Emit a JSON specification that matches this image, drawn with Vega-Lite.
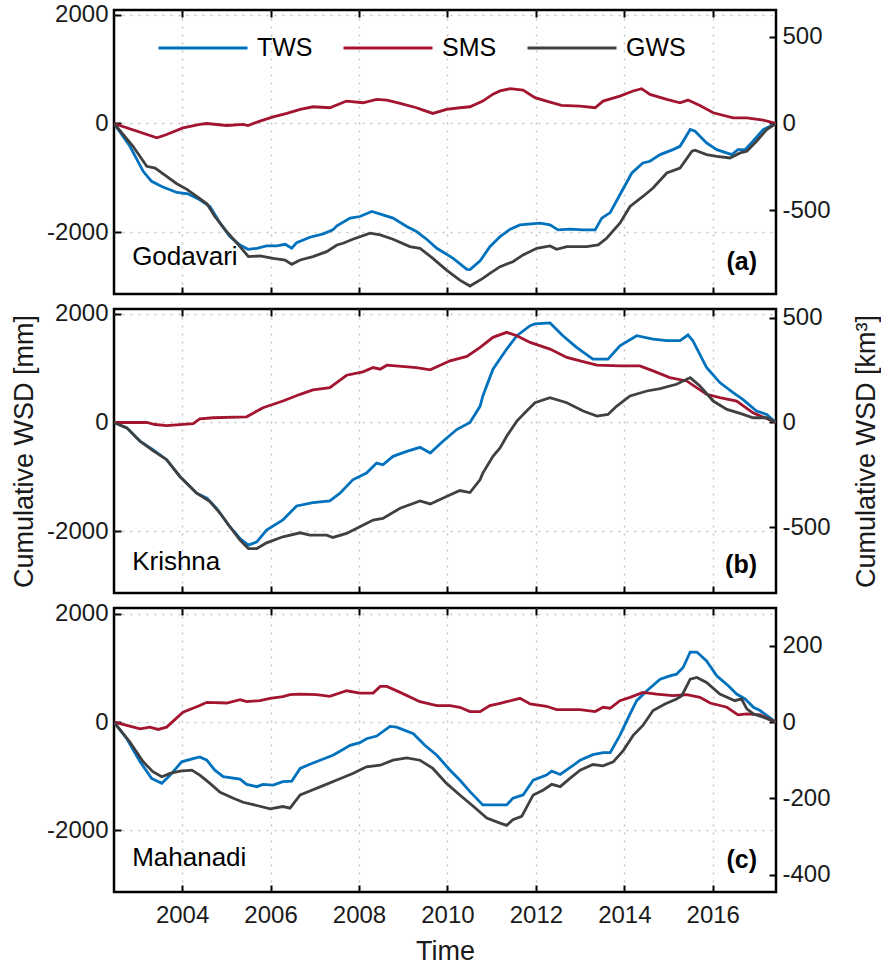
{
  "$schema": "https://vega.github.io/schema/vega-lite/v6.json",
  "background": "white",
  "padding": {"left": 9, "top": 0, "right": 0, "bottom": 2},
  "spacing": 15,
  "bounds": "flush",
  "datasets": {
    "Godavari": [
      {"series":"TWS","year":2002.46,"mm":0},{"series":"TWS","year":2002.82,"mm":-420},{"series":"TWS","year":2003.12,"mm":-881},{"series":"TWS","year":2003.31,"mm":-1066},{"series":"TWS","year":2003.54,"mm":-1159},{"series":"TWS","year":2003.88,"mm":-1270},{"series":"TWS","year":2004.13,"mm":-1294},{"series":"TWS","year":2004.40,"mm":-1405},{"series":"TWS","year":2004.63,"mm":-1529},{"series":"TWS","year":2004.86,"mm":-1836},{"series":"TWS","year":2005.08,"mm":-2083},{"series":"TWS","year":2005.31,"mm":-2237},{"series":"TWS","year":2005.49,"mm":-2317},{"series":"TWS","year":2005.69,"mm":-2298},{"series":"TWS","year":2005.91,"mm":-2255},{"series":"TWS","year":2006.14,"mm":-2255},{"series":"TWS","year":2006.33,"mm":-2224},{"series":"TWS","year":2006.48,"mm":-2298},{"series":"TWS","year":2006.59,"mm":-2194},{"series":"TWS","year":2006.89,"mm":-2095},{"series":"TWS","year":2007.19,"mm":-2033},{"series":"TWS","year":2007.41,"mm":-1959},{"series":"TWS","year":2007.50,"mm":-1885},{"series":"TWS","year":2007.80,"mm":-1743},{"series":"TWS","year":2008.02,"mm":-1713},{"series":"TWS","year":2008.29,"mm":-1621},{"series":"TWS","year":2008.54,"mm":-1682},{"series":"TWS","year":2008.77,"mm":-1743},{"series":"TWS","year":2009.08,"mm":-1898},{"series":"TWS","year":2009.30,"mm":-1990},{"series":"TWS","year":2009.53,"mm":-2131},{"series":"TWS","year":2009.76,"mm":-2298},{"series":"TWS","year":2010.13,"mm":-2483},{"series":"TWS","year":2010.44,"mm":-2686},{"series":"TWS","year":2010.51,"mm":-2690},{"series":"TWS","year":2010.74,"mm":-2530},{"series":"TWS","year":2010.96,"mm":-2268},{"series":"TWS","year":2011.19,"mm":-2083},{"series":"TWS","year":2011.42,"mm":-1947},{"series":"TWS","year":2011.64,"mm":-1867},{"series":"TWS","year":2012.09,"mm":-1836},{"series":"TWS","year":2012.32,"mm":-1867},{"series":"TWS","year":2012.50,"mm":-1959},{"series":"TWS","year":2012.77,"mm":-1947},{"series":"TWS","year":2013.07,"mm":-1959},{"series":"TWS","year":2013.34,"mm":-1959},{"series":"TWS","year":2013.49,"mm":-1743},{"series":"TWS","year":2013.68,"mm":-1640},{"series":"TWS","year":2013.90,"mm":-1312},{"series":"TWS","year":2014.17,"mm":-911},{"series":"TWS","year":2014.42,"mm":-727},{"series":"TWS","year":2014.58,"mm":-696},{"series":"TWS","year":2014.81,"mm":-573},{"series":"TWS","year":2015.10,"mm":-481},{"series":"TWS","year":2015.26,"mm":-420},{"series":"TWS","year":2015.49,"mm":-111},{"series":"TWS","year":2015.60,"mm":-142},{"series":"TWS","year":2015.86,"mm":-357},{"series":"TWS","year":2016.09,"mm":-481},{"series":"TWS","year":2016.43,"mm":-573},{"series":"TWS","year":2016.57,"mm":-481},{"series":"TWS","year":2016.73,"mm":-481},{"series":"TWS","year":2016.91,"mm":-327},{"series":"TWS","year":2017.14,"mm":-111},{"series":"TWS","year":2017.43,"mm":0},
      {"series":"SMS","year":2002.46,"mm":0},{"series":"SMS","year":2003.43,"mm":-264},{"series":"SMS","year":2003.65,"mm":-203},{"series":"SMS","year":2004.02,"mm":-80},{"series":"SMS","year":2004.40,"mm":-18},{"series":"SMS","year":2004.56,"mm":0},{"series":"SMS","year":2005.01,"mm":-37},{"series":"SMS","year":2005.38,"mm":-18},{"series":"SMS","year":2005.49,"mm":-37},{"series":"SMS","year":2005.76,"mm":43},{"series":"SMS","year":2006.06,"mm":123},{"series":"SMS","year":2006.37,"mm":185},{"series":"SMS","year":2006.67,"mm":259},{"series":"SMS","year":2006.96,"mm":308},{"series":"SMS","year":2007.34,"mm":290},{"series":"SMS","year":2007.72,"mm":413},{"series":"SMS","year":2008.09,"mm":382},{"series":"SMS","year":2008.40,"mm":444},{"series":"SMS","year":2008.63,"mm":431},{"series":"SMS","year":2008.93,"mm":370},{"series":"SMS","year":2009.30,"mm":290},{"series":"SMS","year":2009.45,"mm":246},{"series":"SMS","year":2009.67,"mm":185},{"series":"SMS","year":2009.98,"mm":259},{"series":"SMS","year":2010.28,"mm":290},{"series":"SMS","year":2010.51,"mm":308},{"series":"SMS","year":2010.80,"mm":413},{"series":"SMS","year":2011.03,"mm":540},{"series":"SMS","year":2011.19,"mm":600},{"series":"SMS","year":2011.42,"mm":641},{"series":"SMS","year":2011.71,"mm":616},{"series":"SMS","year":2011.98,"mm":475},{"series":"SMS","year":2012.24,"mm":413},{"series":"SMS","year":2012.58,"mm":333},{"series":"SMS","year":2013.00,"mm":320},{"series":"SMS","year":2013.34,"mm":290},{"series":"SMS","year":2013.52,"mm":413},{"series":"SMS","year":2013.90,"mm":505},{"series":"SMS","year":2014.20,"mm":598},{"series":"SMS","year":2014.39,"mm":641},{"series":"SMS","year":2014.58,"mm":536},{"series":"SMS","year":2014.96,"mm":444},{"series":"SMS","year":2015.26,"mm":382},{"series":"SMS","year":2015.44,"mm":431},{"series":"SMS","year":2015.71,"mm":333},{"series":"SMS","year":2016.01,"mm":198},{"series":"SMS","year":2016.46,"mm":105},{"series":"SMS","year":2016.77,"mm":105},{"series":"SMS","year":2017.14,"mm":61},{"series":"SMS","year":2017.43,"mm":0},
      {"series":"GWS","year":2002.46,"mm":0},{"series":"GWS","year":2002.89,"mm":-420},{"series":"GWS","year":2003.20,"mm":-789},{"series":"GWS","year":2003.39,"mm":-820},{"series":"GWS","year":2003.65,"mm":-974},{"series":"GWS","year":2003.88,"mm":-1109},{"series":"GWS","year":2004.10,"mm":-1208},{"series":"GWS","year":2004.33,"mm":-1344},{"series":"GWS","year":2004.56,"mm":-1479},{"series":"GWS","year":2004.74,"mm":-1713},{"series":"GWS","year":2005.01,"mm":-1990},{"series":"GWS","year":2005.31,"mm":-2268},{"series":"GWS","year":2005.50,"mm":-2452},{"series":"GWS","year":2005.76,"mm":-2440},{"series":"GWS","year":2006.06,"mm":-2483},{"series":"GWS","year":2006.33,"mm":-2514},{"series":"GWS","year":2006.48,"mm":-2594},{"series":"GWS","year":2006.67,"mm":-2514},{"series":"GWS","year":2006.96,"mm":-2452},{"series":"GWS","year":2007.27,"mm":-2360},{"series":"GWS","year":2007.50,"mm":-2237},{"series":"GWS","year":2007.64,"mm":-2206},{"series":"GWS","year":2007.86,"mm":-2131},{"series":"GWS","year":2008.25,"mm":-2020},{"series":"GWS","year":2008.48,"mm":-2052},{"series":"GWS","year":2008.77,"mm":-2131},{"series":"GWS","year":2009.15,"mm":-2268},{"series":"GWS","year":2009.38,"mm":-2298},{"series":"GWS","year":2009.67,"mm":-2483},{"series":"GWS","year":2009.98,"mm":-2699},{"series":"GWS","year":2010.28,"mm":-2884},{"series":"GWS","year":2010.51,"mm":-2994},{"series":"GWS","year":2010.80,"mm":-2852},{"series":"GWS","year":2010.96,"mm":-2760},{"series":"GWS","year":2011.19,"mm":-2637},{"series":"GWS","year":2011.48,"mm":-2545},{"series":"GWS","year":2011.71,"mm":-2421},{"series":"GWS","year":2012.02,"mm":-2298},{"series":"GWS","year":2012.32,"mm":-2255},{"series":"GWS","year":2012.47,"mm":-2317},{"series":"GWS","year":2012.70,"mm":-2268},{"series":"GWS","year":2013.15,"mm":-2268},{"series":"GWS","year":2013.41,"mm":-2237},{"series":"GWS","year":2013.60,"mm":-2113},{"series":"GWS","year":2013.90,"mm":-1836},{"series":"GWS","year":2014.13,"mm":-1529},{"series":"GWS","year":2014.42,"mm":-1344},{"series":"GWS","year":2014.65,"mm":-1189},{"series":"GWS","year":2014.96,"mm":-911},{"series":"GWS","year":2015.26,"mm":-820},{"series":"GWS","year":2015.53,"mm":-512},{"series":"GWS","year":2015.60,"mm":-493},{"series":"GWS","year":2015.86,"mm":-573},{"series":"GWS","year":2016.09,"mm":-604},{"series":"GWS","year":2016.39,"mm":-635},{"series":"GWS","year":2016.62,"mm":-542},{"series":"GWS","year":2016.77,"mm":-512},{"series":"GWS","year":2016.99,"mm":-327},{"series":"GWS","year":2017.22,"mm":-111},{"series":"GWS","year":2017.43,"mm":0}
    ],
    "Krishna": [
      {"series":"TWS","year":2002.46,"mm":0},{"series":"TWS","year":2002.75,"mm":-99},{"series":"TWS","year":2003.05,"mm":-346},{"series":"TWS","year":2003.34,"mm":-500},{"series":"TWS","year":2003.65,"mm":-685},{"series":"TWS","year":2003.95,"mm":-994},{"series":"TWS","year":2004.33,"mm":-1302},{"series":"TWS","year":2004.56,"mm":-1395},{"series":"TWS","year":2004.78,"mm":-1580},{"series":"TWS","year":2005.08,"mm":-1920},{"series":"TWS","year":2005.31,"mm":-2136},{"series":"TWS","year":2005.50,"mm":-2259},{"series":"TWS","year":2005.69,"mm":-2198},{"series":"TWS","year":2005.91,"mm":-1981},{"series":"TWS","year":2006.28,"mm":-1796},{"series":"TWS","year":2006.59,"mm":-1537},{"series":"TWS","year":2006.96,"mm":-1475},{"series":"TWS","year":2007.34,"mm":-1444},{"series":"TWS","year":2007.57,"mm":-1302},{"series":"TWS","year":2007.86,"mm":-1055},{"series":"TWS","year":2008.17,"mm":-932},{"series":"TWS","year":2008.40,"mm":-747},{"series":"TWS","year":2008.54,"mm":-778},{"series":"TWS","year":2008.77,"mm":-623},{"series":"TWS","year":2009.08,"mm":-531},{"series":"TWS","year":2009.38,"mm":-457},{"series":"TWS","year":2009.61,"mm":-562},{"series":"TWS","year":2009.90,"mm":-346},{"series":"TWS","year":2010.21,"mm":-130},{"series":"TWS","year":2010.51,"mm":0},{"series":"TWS","year":2010.74,"mm":302},{"series":"TWS","year":2010.80,"mm":488},{"series":"TWS","year":2011.03,"mm":981},{"series":"TWS","year":2011.34,"mm":1352},{"series":"TWS","year":2011.57,"mm":1598},{"series":"TWS","year":2011.87,"mm":1783},{"series":"TWS","year":2011.98,"mm":1815},{"series":"TWS","year":2012.32,"mm":1833},{"series":"TWS","year":2012.61,"mm":1598},{"series":"TWS","year":2012.92,"mm":1383},{"series":"TWS","year":2013.29,"mm":1167},{"series":"TWS","year":2013.63,"mm":1167},{"series":"TWS","year":2013.90,"mm":1413},{"series":"TWS","year":2014.28,"mm":1598},{"series":"TWS","year":2014.65,"mm":1537},{"series":"TWS","year":2014.96,"mm":1506},{"series":"TWS","year":2015.26,"mm":1506},{"series":"TWS","year":2015.44,"mm":1611},{"series":"TWS","year":2015.55,"mm":1506},{"series":"TWS","year":2015.86,"mm":1012},{"series":"TWS","year":2016.16,"mm":735},{"series":"TWS","year":2016.46,"mm":549},{"series":"TWS","year":2016.68,"mm":426},{"series":"TWS","year":2016.99,"mm":210},{"series":"TWS","year":2017.22,"mm":148},{"series":"TWS","year":2017.43,"mm":0},
      {"series":"SMS","year":2002.46,"mm":0},{"series":"SMS","year":2003.20,"mm":0},{"series":"SMS","year":2003.39,"mm":-37},{"series":"SMS","year":2003.65,"mm":-56},{"series":"SMS","year":2004.25,"mm":-19},{"series":"SMS","year":2004.40,"mm":68},{"series":"SMS","year":2004.70,"mm":87},{"series":"SMS","year":2005.46,"mm":105},{"series":"SMS","year":2005.83,"mm":272},{"series":"SMS","year":2006.28,"mm":395},{"series":"SMS","year":2006.67,"mm":519},{"series":"SMS","year":2006.96,"mm":599},{"series":"SMS","year":2007.34,"mm":642},{"series":"SMS","year":2007.72,"mm":870},{"series":"SMS","year":2008.09,"mm":932},{"series":"SMS","year":2008.32,"mm":1012},{"series":"SMS","year":2008.48,"mm":981},{"series":"SMS","year":2008.63,"mm":1055},{"series":"SMS","year":2009.30,"mm":1012},{"series":"SMS","year":2009.61,"mm":969},{"series":"SMS","year":2010.06,"mm":1136},{"series":"SMS","year":2010.44,"mm":1216},{"series":"SMS","year":2010.74,"mm":1383},{"series":"SMS","year":2011.03,"mm":1568},{"series":"SMS","year":2011.34,"mm":1660},{"series":"SMS","year":2011.57,"mm":1598},{"series":"SMS","year":2011.87,"mm":1475},{"series":"SMS","year":2012.32,"mm":1352},{"series":"SMS","year":2012.70,"mm":1198},{"series":"SMS","year":2013.00,"mm":1136},{"series":"SMS","year":2013.38,"mm":1055},{"series":"SMS","year":2013.90,"mm":1043},{"series":"SMS","year":2014.35,"mm":1043},{"series":"SMS","year":2014.65,"mm":950},{"series":"SMS","year":2015.03,"mm":827},{"series":"SMS","year":2015.41,"mm":765},{"series":"SMS","year":2015.86,"mm":519},{"series":"SMS","year":2016.16,"mm":457},{"series":"SMS","year":2016.54,"mm":395},{"series":"SMS","year":2016.91,"mm":179},{"series":"SMS","year":2017.43,"mm":0},
      {"series":"GWS","year":2002.46,"mm":0},{"series":"GWS","year":2002.75,"mm":-99},{"series":"GWS","year":2003.05,"mm":-346},{"series":"GWS","year":2003.34,"mm":-519},{"series":"GWS","year":2003.65,"mm":-685},{"series":"GWS","year":2003.95,"mm":-994},{"series":"GWS","year":2004.33,"mm":-1302},{"series":"GWS","year":2004.63,"mm":-1457},{"series":"GWS","year":2004.86,"mm":-1672},{"series":"GWS","year":2005.08,"mm":-1920},{"series":"GWS","year":2005.31,"mm":-2167},{"series":"GWS","year":2005.50,"mm":-2321},{"series":"GWS","year":2005.69,"mm":-2321},{"series":"GWS","year":2005.91,"mm":-2216},{"series":"GWS","year":2006.28,"mm":-2105},{"series":"GWS","year":2006.67,"mm":-2031},{"series":"GWS","year":2006.89,"mm":-2074},{"series":"GWS","year":2007.27,"mm":-2074},{"series":"GWS","year":2007.41,"mm":-2117},{"series":"GWS","year":2007.72,"mm":-2043},{"series":"GWS","year":2008.02,"mm":-1920},{"series":"GWS","year":2008.32,"mm":-1796},{"series":"GWS","year":2008.54,"mm":-1765},{"series":"GWS","year":2008.93,"mm":-1580},{"series":"GWS","year":2009.38,"mm":-1444},{"series":"GWS","year":2009.61,"mm":-1500},{"series":"GWS","year":2009.98,"mm":-1364},{"series":"GWS","year":2010.28,"mm":-1253},{"series":"GWS","year":2010.51,"mm":-1290},{"series":"GWS","year":2010.74,"mm":-1050},{"series":"GWS","year":2010.80,"mm":-932},{"series":"GWS","year":2011.03,"mm":-623},{"series":"GWS","year":2011.19,"mm":-469},{"series":"GWS","year":2011.34,"mm":-253},{"series":"GWS","year":2011.57,"mm":25},{"series":"GWS","year":2011.79,"mm":210},{"series":"GWS","year":2011.98,"mm":364},{"series":"GWS","year":2012.32,"mm":457},{"series":"GWS","year":2012.70,"mm":364},{"series":"GWS","year":2013.07,"mm":210},{"series":"GWS","year":2013.38,"mm":117},{"series":"GWS","year":2013.63,"mm":148},{"series":"GWS","year":2013.83,"mm":302},{"series":"GWS","year":2014.13,"mm":488},{"series":"GWS","year":2014.51,"mm":580},{"series":"GWS","year":2014.81,"mm":624},{"series":"GWS","year":2015.18,"mm":704},{"series":"GWS","year":2015.49,"mm":827},{"series":"GWS","year":2015.71,"mm":673},{"series":"GWS","year":2016.01,"mm":395},{"series":"GWS","year":2016.32,"mm":241},{"series":"GWS","year":2016.62,"mm":167},{"series":"GWS","year":2016.91,"mm":87},{"series":"GWS","year":2017.22,"mm":87},{"series":"GWS","year":2017.43,"mm":0}
    ],
    "Mahanadi": [
      {"series":"TWS","year":2002.46,"mm":0},{"series":"TWS","year":2002.75,"mm":-306},{"series":"TWS","year":2003.05,"mm":-734},{"series":"TWS","year":2003.31,"mm":-1040},{"series":"TWS","year":2003.54,"mm":-1132},{"series":"TWS","year":2003.73,"mm":-979},{"series":"TWS","year":2003.99,"mm":-734},{"series":"TWS","year":2004.25,"mm":-673},{"series":"TWS","year":2004.40,"mm":-642},{"series":"TWS","year":2004.56,"mm":-704},{"series":"TWS","year":2004.74,"mm":-888},{"series":"TWS","year":2004.93,"mm":-1009},{"series":"TWS","year":2005.31,"mm":-1052},{"series":"TWS","year":2005.46,"mm":-1150},{"series":"TWS","year":2005.69,"mm":-1193},{"series":"TWS","year":2005.83,"mm":-1150},{"series":"TWS","year":2006.06,"mm":-1163},{"series":"TWS","year":2006.28,"mm":-1101},{"series":"TWS","year":2006.48,"mm":-1089},{"series":"TWS","year":2006.67,"mm":-856},{"series":"TWS","year":2006.89,"mm":-777},{"series":"TWS","year":2007.12,"mm":-704},{"series":"TWS","year":2007.41,"mm":-612},{"series":"TWS","year":2007.57,"mm":-538},{"series":"TWS","year":2007.80,"mm":-428},{"series":"TWS","year":2008.02,"mm":-379},{"series":"TWS","year":2008.17,"mm":-306},{"series":"TWS","year":2008.40,"mm":-257},{"series":"TWS","year":2008.70,"mm":-80},{"series":"TWS","year":2008.85,"mm":-92},{"series":"TWS","year":2009.23,"mm":-214},{"series":"TWS","year":2009.49,"mm":-428},{"series":"TWS","year":2009.76,"mm":-612},{"series":"TWS","year":2010.06,"mm":-888},{"series":"TWS","year":2010.28,"mm":-1071},{"series":"TWS","year":2010.51,"mm":-1284},{"series":"TWS","year":2010.80,"mm":-1530},{"series":"TWS","year":2011.03,"mm":-1530},{"series":"TWS","year":2011.34,"mm":-1530},{"series":"TWS","year":2011.48,"mm":-1407},{"series":"TWS","year":2011.71,"mm":-1346},{"series":"TWS","year":2011.94,"mm":-1071},{"series":"TWS","year":2012.24,"mm":-979},{"series":"TWS","year":2012.36,"mm":-906},{"series":"TWS","year":2012.55,"mm":-967},{"series":"TWS","year":2012.85,"mm":-796},{"series":"TWS","year":2013.00,"mm":-704},{"series":"TWS","year":2013.29,"mm":-600},{"series":"TWS","year":2013.52,"mm":-563},{"series":"TWS","year":2013.68,"mm":-563},{"series":"TWS","year":2013.90,"mm":-245},{"series":"TWS","year":2014.13,"mm":152},{"series":"TWS","year":2014.28,"mm":397},{"series":"TWS","year":2014.51,"mm":580},{"series":"TWS","year":2014.81,"mm":795},{"series":"TWS","year":2015.03,"mm":856},{"series":"TWS","year":2015.18,"mm":887},{"series":"TWS","year":2015.33,"mm":1009},{"series":"TWS","year":2015.49,"mm":1296},{"series":"TWS","year":2015.64,"mm":1296},{"series":"TWS","year":2015.86,"mm":1131},{"series":"TWS","year":2016.09,"mm":856},{"series":"TWS","year":2016.35,"mm":673},{"series":"TWS","year":2016.54,"mm":519},{"series":"TWS","year":2016.73,"mm":428},{"series":"TWS","year":2016.92,"mm":275},{"series":"TWS","year":2017.07,"mm":214},{"series":"TWS","year":2017.43,"mm":0},
      {"series":"SMS","year":2002.46,"mm":0},{"series":"SMS","year":2002.75,"mm":-61},{"series":"SMS","year":2003.05,"mm":-123},{"series":"SMS","year":2003.27,"mm":-92},{"series":"SMS","year":2003.46,"mm":-135},{"series":"SMS","year":2003.65,"mm":-92},{"series":"SMS","year":2004.02,"mm":183},{"series":"SMS","year":2004.40,"mm":306},{"series":"SMS","year":2004.56,"mm":367},{"series":"SMS","year":2005.01,"mm":354},{"series":"SMS","year":2005.31,"mm":415},{"series":"SMS","year":2005.46,"mm":378},{"series":"SMS","year":2005.76,"mm":397},{"series":"SMS","year":2005.99,"mm":440},{"series":"SMS","year":2006.28,"mm":470},{"series":"SMS","year":2006.44,"mm":507},{"series":"SMS","year":2006.67,"mm":519},{"series":"SMS","year":2007.04,"mm":507},{"series":"SMS","year":2007.34,"mm":477},{"series":"SMS","year":2007.72,"mm":580},{"series":"SMS","year":2008.02,"mm":538},{"series":"SMS","year":2008.32,"mm":538},{"series":"SMS","year":2008.48,"mm":661},{"series":"SMS","year":2008.63,"mm":661},{"series":"SMS","year":2008.93,"mm":550},{"series":"SMS","year":2009.38,"mm":378},{"series":"SMS","year":2009.76,"mm":306},{"series":"SMS","year":2010.06,"mm":306},{"series":"SMS","year":2010.28,"mm":275},{"series":"SMS","year":2010.51,"mm":195},{"series":"SMS","year":2010.74,"mm":195},{"series":"SMS","year":2010.96,"mm":306},{"series":"SMS","year":2011.19,"mm":349},{"series":"SMS","year":2011.34,"mm":378},{"series":"SMS","year":2011.64,"mm":440},{"series":"SMS","year":2011.87,"mm":336},{"series":"SMS","year":2012.24,"mm":293},{"series":"SMS","year":2012.47,"mm":232},{"series":"SMS","year":2013.00,"mm":232},{"series":"SMS","year":2013.34,"mm":195},{"series":"SMS","year":2013.52,"mm":275},{"series":"SMS","year":2013.68,"mm":257},{"series":"SMS","year":2013.90,"mm":397},{"series":"SMS","year":2014.13,"mm":459},{"series":"SMS","year":2014.42,"mm":550},{"series":"SMS","year":2014.73,"mm":519},{"series":"SMS","year":2015.10,"mm":489},{"series":"SMS","year":2015.41,"mm":507},{"series":"SMS","year":2015.71,"mm":459},{"series":"SMS","year":2015.94,"mm":354},{"series":"SMS","year":2016.32,"mm":275},{"series":"SMS","year":2016.57,"mm":134},{"series":"SMS","year":2016.77,"mm":152},{"series":"SMS","year":2017.07,"mm":134},{"series":"SMS","year":2017.43,"mm":0},
      {"series":"GWS","year":2002.46,"mm":0},{"series":"GWS","year":2002.82,"mm":-367},{"series":"GWS","year":2003.12,"mm":-734},{"series":"GWS","year":2003.34,"mm":-917},{"series":"GWS","year":2003.54,"mm":-1009},{"series":"GWS","year":2003.73,"mm":-948},{"series":"GWS","year":2003.95,"mm":-906},{"series":"GWS","year":2004.22,"mm":-888},{"series":"GWS","year":2004.40,"mm":-979},{"series":"GWS","year":2004.63,"mm":-1132},{"series":"GWS","year":2004.86,"mm":-1297},{"series":"GWS","year":2005.16,"mm":-1407},{"series":"GWS","year":2005.38,"mm":-1481},{"series":"GWS","year":2005.69,"mm":-1541},{"series":"GWS","year":2005.99,"mm":-1603},{"series":"GWS","year":2006.28,"mm":-1560},{"series":"GWS","year":2006.44,"mm":-1591},{"series":"GWS","year":2006.67,"mm":-1346},{"series":"GWS","year":2006.89,"mm":-1273},{"series":"GWS","year":2007.19,"mm":-1174},{"series":"GWS","year":2007.50,"mm":-1071},{"series":"GWS","year":2007.86,"mm":-948},{"series":"GWS","year":2008.17,"mm":-826},{"series":"GWS","year":2008.48,"mm":-796},{"series":"GWS","year":2008.77,"mm":-704},{"series":"GWS","year":2009.08,"mm":-661},{"series":"GWS","year":2009.38,"mm":-704},{"series":"GWS","year":2009.67,"mm":-856},{"series":"GWS","year":2009.98,"mm":-1132},{"series":"GWS","year":2010.28,"mm":-1346},{"series":"GWS","year":2010.59,"mm":-1560},{"series":"GWS","year":2010.89,"mm":-1774},{"series":"GWS","year":2011.19,"mm":-1866},{"series":"GWS","year":2011.34,"mm":-1908},{"series":"GWS","year":2011.48,"mm":-1805},{"series":"GWS","year":2011.68,"mm":-1743},{"series":"GWS","year":2011.94,"mm":-1346},{"series":"GWS","year":2012.17,"mm":-1254},{"series":"GWS","year":2012.36,"mm":-1150},{"series":"GWS","year":2012.55,"mm":-1193},{"series":"GWS","year":2012.77,"mm":-1040},{"series":"GWS","year":2013.00,"mm":-888},{"series":"GWS","year":2013.29,"mm":-783},{"series":"GWS","year":2013.52,"mm":-807},{"series":"GWS","year":2013.75,"mm":-734},{"series":"GWS","year":2013.98,"mm":-521},{"series":"GWS","year":2014.20,"mm":-245},{"series":"GWS","year":2014.42,"mm":-61},{"series":"GWS","year":2014.65,"mm":214},{"series":"GWS","year":2014.92,"mm":336},{"series":"GWS","year":2015.18,"mm":428},{"series":"GWS","year":2015.30,"mm":489},{"series":"GWS","year":2015.49,"mm":795},{"series":"GWS","year":2015.64,"mm":826},{"series":"GWS","year":2015.86,"mm":734},{"series":"GWS","year":2016.16,"mm":519},{"series":"GWS","year":2016.50,"mm":397},{"series":"GWS","year":2016.65,"mm":428},{"series":"GWS","year":2016.77,"mm":245},{"series":"GWS","year":2016.92,"mm":152},{"series":"GWS","year":2017.14,"mm":92},{"series":"GWS","year":2017.43,"mm":0}
    ]
  },
  "vconcat": [
    {
      "width": 662, "height": 284,
      "layer": [
        {"data": {"name": "Godavari"}, "mark": {"type": "line", "strokeWidth": 2.8, "clip": true},
         "encoding": {
           "x": {"field": "year", "type": "quantitative", "scale": {"domain": [2002.46, 2017.43], "nice": false, "zero": false}, "axis": {"orient": "bottom", "values": [2004,2006,2008,2010,2012,2014,2016], "labels": false, "title": null, "grid": true}},
           "y": {"field": "mm", "type": "quantitative", "scale": {"domain": [-3140, 2090], "nice": false, "zero": false}, "axis": {"orient": "left", "values": [-2000,0,2000], "grid": true, "title": null, "labelExpr": "'' + datum.value"}},
           "color": {"field": "series", "type": "nominal", "scale": {"domain": ["TWS","SMS","GWS"], "range": ["#0072BD","#A2142F","#404040"]},
             "legend": {"orient": "none", "direction": "horizontal", "legendX": 43, "legendY": -8, "title": null, "symbolType": "stroke", "symbolSize": 7921, "symbolStrokeWidth": 3, "labelFontSize": 25, "labelOffset": 8, "columnPadding": 24, "padding": 0, "labelColor": "black", "labelFont": "Liberation Sans"}}
         }},
        {"data": {"values": [{"year": 2010}]}, "mark": {"type": "rule", "opacity": 0},
         "encoding": {"x": {"field": "year", "type": "quantitative", "scale": {"domain": [2002.46, 2017.43], "nice": false, "zero": false}, "axis": {"orient": "top", "values": [2004,2006,2008,2010,2012,2014,2016], "labels": false, "title": null, "grid": false}}}},
        {"data": {"values": [{"km3": 0}]}, "mark": {"type": "rule", "opacity": 0},
         "encoding": {"y": {"field": "km3", "type": "quantitative", "scale": {"domain": [-983, 654], "nice": false, "zero": false}, "axis": {"orient": "right", "values": [-500,0,500], "grid": false, "title": null, "labelExpr": "'' + datum.value"}}}},
        {"data": {"values": [{"basin": "Godavari"}]}, "mark": {"type": "text", "align": "left", "baseline": "middle", "fontSize": 26, "font": "Liberation Sans", "color": "black"},
         "encoding": {"x": {"datum": 2002.87, "type": "quantitative", "scale": {"domain": [2002.46, 2017.43], "nice": false, "zero": false}, "axis": null},
                      "y": {"datum": -2460, "type": "quantitative", "scale": {"domain": [-3140, 2090], "nice": false, "zero": false}, "axis": null},
                      "text": {"field": "basin"}}},
        {"data": {"values": [{"panel": "(a)"}]}, "mark": {"type": "text", "align": "right", "baseline": "middle", "fontSize": 25, "fontWeight": "bold", "font": "Liberation Sans", "color": "black"},
         "encoding": {"x": {"datum": 2017.0, "type": "quantitative", "scale": {"domain": [2002.46, 2017.43], "nice": false, "zero": false}, "axis": null},
                      "y": {"datum": -2546, "type": "quantitative", "scale": {"domain": [-3140, 2090], "nice": false, "zero": false}, "axis": null},
                      "text": {"field": "panel"}}}
      ],
      "resolve": {"scale": {"y": "independent"}, "axis": {"x": "independent"}}
    },
    {
      "width": 662, "height": 284,
      "layer": [
        {"data": {"name": "Krishna"}, "mark": {"type": "line", "strokeWidth": 2.8, "clip": true},
         "encoding": {
           "x": {"field": "year", "type": "quantitative", "scale": {"domain": [2002.46, 2017.43], "nice": false, "zero": false}, "axis": {"orient": "bottom", "values": [2004,2006,2008,2010,2012,2014,2016], "labels": false, "title": null, "grid": true}},
           "y": {"field": "mm", "type": "quantitative", "scale": {"domain": [-3140, 2090], "nice": false, "zero": false}, "axis": {"orient": "left", "values": [-2000,0,2000], "grid": true, "title": "Cumulative WSD [mm]", "titlePadding": 8, "labelExpr": "'' + datum.value"}},
           "color": {"field": "series", "type": "nominal", "scale": {"domain": ["TWS","SMS","GWS"], "range": ["#0072BD","#A2142F","#404040"]}, "legend": null}
         }},
        {"data": {"values": [{"year": 2010}]}, "mark": {"type": "rule", "opacity": 0},
         "encoding": {"x": {"field": "year", "type": "quantitative", "scale": {"domain": [2002.46, 2017.43], "nice": false, "zero": false}, "axis": {"orient": "top", "values": [2004,2006,2008,2010,2012,2014,2016], "labels": false, "title": null, "grid": false}}}},
        {"data": {"values": [{"km3": 0}]}, "mark": {"type": "rule", "opacity": 0},
         "encoding": {"y": {"field": "km3", "type": "quantitative", "scale": {"domain": [-813, 541], "nice": false, "zero": false}, "axis": {"orient": "right", "values": [-500,0,500], "grid": false, "title": "Cumulative WSD [km³]", "titleAngle": 270, "titlePadding": 50, "labelExpr": "'' + datum.value"}}}},
        {"data": {"values": [{"basin": "Krishna"}]}, "mark": {"type": "text", "align": "left", "baseline": "middle", "fontSize": 26, "font": "Liberation Sans", "color": "black"},
         "encoding": {"x": {"datum": 2002.87, "type": "quantitative", "scale": {"domain": [2002.46, 2017.43], "nice": false, "zero": false}, "axis": null},
                      "y": {"datum": -2560, "type": "quantitative", "scale": {"domain": [-3140, 2090], "nice": false, "zero": false}, "axis": null},
                      "text": {"field": "basin"}}},
        {"data": {"values": [{"panel": "(b)"}]}, "mark": {"type": "text", "align": "right", "baseline": "middle", "fontSize": 25, "fontWeight": "bold", "font": "Liberation Sans", "color": "black"},
         "encoding": {"x": {"datum": 2017.0, "type": "quantitative", "scale": {"domain": [2002.46, 2017.43], "nice": false, "zero": false}, "axis": null},
                      "y": {"datum": -2625, "type": "quantitative", "scale": {"domain": [-3140, 2090], "nice": false, "zero": false}, "axis": null},
                      "text": {"field": "panel"}}}
      ],
      "resolve": {"scale": {"y": "independent"}, "axis": {"x": "independent"}}
    },
    {
      "width": 662, "height": 284,
      "layer": [
        {"data": {"name": "Mahanadi"}, "mark": {"type": "line", "strokeWidth": 2.8, "clip": true},
         "encoding": {
           "x": {"field": "year", "type": "quantitative", "scale": {"domain": [2002.46, 2017.43], "nice": false, "zero": false}, "axis": {"orient": "bottom", "values": [2004,2006,2008,2010,2012,2014,2016], "format": "d", "title": "Time", "titlePadding": 11, "grid": true}},
           "y": {"field": "mm", "type": "quantitative", "scale": {"domain": [-3140, 2110], "nice": false, "zero": false}, "axis": {"orient": "left", "values": [-2000,0,2000], "grid": true, "title": null, "labelExpr": "'' + datum.value"}},
           "color": {"field": "series", "type": "nominal", "scale": {"domain": ["TWS","SMS","GWS"], "range": ["#0072BD","#A2142F","#404040"]}, "legend": null}
         }},
        {"data": {"values": [{"year": 2010}]}, "mark": {"type": "rule", "opacity": 0},
         "encoding": {"x": {"field": "year", "type": "quantitative", "scale": {"domain": [2002.46, 2017.43], "nice": false, "zero": false}, "axis": {"orient": "top", "values": [2004,2006,2008,2010,2012,2014,2016], "labels": false, "title": null, "grid": false}}}},
        {"data": {"values": [{"km3": 0}]}, "mark": {"type": "rule", "opacity": 0},
         "encoding": {"y": {"field": "km3", "type": "quantitative", "scale": {"domain": [-445, 299], "nice": false, "zero": false}, "axis": {"orient": "right", "values": [-400,-200,0,200], "grid": false, "title": null, "labelExpr": "'' + datum.value"}}}},
        {"data": {"values": [{"basin": "Mahanadi"}]}, "mark": {"type": "text", "align": "left", "baseline": "middle", "fontSize": 26, "font": "Liberation Sans", "color": "black"},
         "encoding": {"x": {"datum": 2002.87, "type": "quantitative", "scale": {"domain": [2002.46, 2017.43], "nice": false, "zero": false}, "axis": null},
                      "y": {"datum": -2510, "type": "quantitative", "scale": {"domain": [-3140, 2110], "nice": false, "zero": false}, "axis": null},
                      "text": {"field": "basin"}}},
        {"data": {"values": [{"panel": "(c)"}]}, "mark": {"type": "text", "align": "right", "baseline": "middle", "fontSize": 25, "fontWeight": "bold", "font": "Liberation Sans", "color": "black"},
         "encoding": {"x": {"datum": 2017.0, "type": "quantitative", "scale": {"domain": [2002.46, 2017.43], "nice": false, "zero": false}, "axis": null},
                      "y": {"datum": -2550, "type": "quantitative", "scale": {"domain": [-3140, 2110], "nice": false, "zero": false}, "axis": null},
                      "text": {"field": "panel"}}}
      ],
      "resolve": {"scale": {"y": "independent"}, "axis": {"x": "independent"}}
    }
  ],
  "resolve": {"scale": {"color": "independent"}, "legend": {"color": "independent"}},
  "config": {
    "font": "Liberation Sans",
    "view": {"stroke": "black", "strokeWidth": 2.5},
    "axis": {"domain": false, "ticks": true, "tickSize": -7, "tickWidth": 2, "tickColor": "black", "labelFont": "Liberation Sans", "labelFontSize": 24, "labelColor": "#1a1a1a", "labelPadding": 13, "titleFont": "Liberation Sans", "titleFontSize": 27, "titleFontWeight": "normal", "titleColor": "#1a1a1a", "gridColor": "#c4c4c4", "gridDash": [2, 6], "gridWidth": 1.5},
    "axisBottom": {"labelPadding": 18}
  }
}
